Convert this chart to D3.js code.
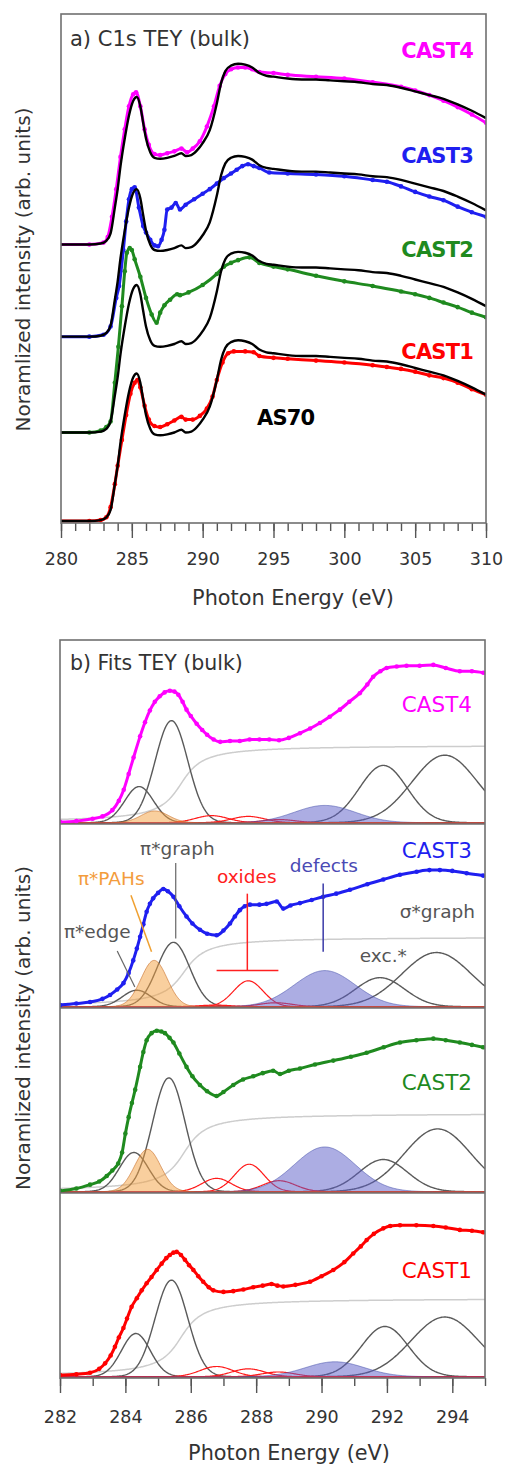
<!DOCTYPE html>
<html><head><meta charset="utf-8">
<script src="https://cdn.jsdelivr.net/npm/d3@7"></script>
<style>body{margin:0;background:#fff} text{font-family:"DejaVu Sans",sans-serif}</style>
</head><body><svg id="c" width="508" height="1468"></svg>
<script>
// ---------------- DATA: panel a) (C1s TEY bulk) ----------------
const topTicks = [280, 285, 290, 295, 300, 305, 310];
const topOffsets = [0, 0.96, 2.0, 3.0]; // CAST1, CAST2, CAST3, CAST4 vertical offsets
const as70Bulk = [[280,0],[281,0],[282,0],[282.8,0.01],[283.2,0.04],[283.5,0.12],[283.8,0.4],[284.0,0.6],[284.2,0.85],[284.5,1.15],[284.8,1.4],[285.1,1.56],[285.35,1.6],[285.6,1.5],[285.8,1.32],[286.0,1.15],[286.3,1.0],[286.6,0.94],[287.0,0.93],[287.5,0.94],[288.0,0.96],[288.5,0.99],[288.8,0.96],[289.2,0.97],[289.6,1.02],[290.0,1.1],[290.5,1.24],[291.0,1.53],[291.3,1.75],[291.6,1.88],[292.0,1.94],[292.5,1.96],[293.0,1.95],[293.5,1.92],[294.0,1.86],[294.5,1.83],[295,1.82],[296,1.8],[297,1.79],[298,1.79],[299,1.78],[300,1.77],[301,1.76],[302,1.74],[303,1.73],[304,1.7],[305,1.66],[306,1.62],[307,1.58],[308,1.52],[309,1.45],[310,1.37]];
const cast1Bulk = [[280,0],[281,0],[282,0],[282.8,0.01],[283.2,0.04],[283.5,0.15],[283.8,0.4],[284.0,0.6],[284.3,0.88],[284.6,1.15],[284.9,1.38],[285.2,1.5],[285.4,1.53],[285.6,1.45],[285.9,1.25],[286.2,1.1],[286.6,1.03],[287.0,1.02],[287.5,1.05],[288.0,1.09],[288.5,1.13],[288.8,1.1],[289.3,1.1],[289.8,1.14],[290.3,1.22],[290.7,1.35],[291.0,1.53],[291.4,1.72],[291.8,1.82],[292.2,1.84],[293.0,1.84],[293.6,1.83],[294.0,1.79],[295,1.77],[296,1.76],[298,1.74],[300,1.72],[302,1.69],[303,1.67],[304,1.65],[305,1.62],[306,1.58],[307,1.55],[308,1.5],[309,1.43],[310,1.37]];
const cast2Bulk = [[280,0],[281,0],[282,0],[282.8,0.02],[283.2,0.06],[283.5,0.12],[283.8,0.54],[284.05,0.93],[284.3,1.37],[284.5,1.75],[284.65,1.95],[284.85,2.0],[285.0,1.98],[285.2,1.88],[285.6,1.69],[286.0,1.46],[286.4,1.28],[286.75,1.19],[287.0,1.3],[287.3,1.38],[287.7,1.44],[288.2,1.5],[288.4,1.49],[289.0,1.52],[290.0,1.6],[291.0,1.72],[291.5,1.8],[292.0,1.84],[292.5,1.87],[293.3,1.9],[294.0,1.84],[295,1.8],[296,1.77],[298,1.7],[300,1.64],[302,1.59],[304,1.53],[305,1.5],[306,1.46],[307,1.41],[308,1.36],[309,1.3],[310,1.25]];
const cast3Bulk = [[280,0],[281,0],[282,0],[283.0,0.02],[283.5,0.11],[283.9,0.42],[284.1,0.55],[284.4,0.94],[284.6,1.25],[284.8,1.49],[285.0,1.6],[285.2,1.62],[285.5,1.4],[285.8,1.2],[286.0,1.13],[286.3,1.05],[286.6,0.99],[286.85,0.98],[287.1,1.05],[287.3,1.16],[287.5,1.38],[287.8,1.4],[288.1,1.45],[288.4,1.38],[288.8,1.43],[289.4,1.49],[290.0,1.55],[290.5,1.6],[291.0,1.66],[291.5,1.72],[292.0,1.77],[292.4,1.81],[292.8,1.85],[293.2,1.87],[293.6,1.85],[294.0,1.83],[294.7,1.78],[296,1.77],[298,1.76],[300,1.74],[302,1.7],[303,1.68],[304,1.63],[305,1.57],[306,1.52],[307,1.48],[308,1.41],[309,1.35],[310,1.3]];
const cast4Bulk = [[280,0],[281,0],[282,0],[283.0,0.02],[283.3,0.08],[283.6,0.3],[283.9,0.6],[284.2,0.95],[284.5,1.25],[284.8,1.5],[285.1,1.63],[285.3,1.65],[285.6,1.5],[285.9,1.25],[286.2,1.08],[286.6,0.98],[287.0,0.97],[287.5,0.99],[288.0,1.01],[288.5,1.04],[288.9,1.0],[289.3,1.04],[289.8,1.12],[290.3,1.28],[290.8,1.5],[291.2,1.72],[291.6,1.85],[292.0,1.9],[292.5,1.92],[293.0,1.92],[293.5,1.9],[294.0,1.87],[295,1.86],[296,1.84],[298,1.82],[300,1.8],[302,1.76],[304,1.71],[305,1.67],[306,1.62],[307,1.56],[308,1.49],[309,1.41],[310,1.32]];

// ---------------- DATA: panel b) (fits) ----------------
const fitNames = ["CAST4", "CAST3", "CAST2", "CAST1"];
const bottomTicks = [282, 284, 286, 288, 290, 292, 294];
const cast4Fit = [[282,0.01],[282.5,0.02],[283.0,0.05],[283.3,0.08],[283.6,0.16],[283.8,0.28],[283.95,0.42],[284.1,0.62],[284.25,0.83],[284.45,1.1],[284.6,1.28],[284.75,1.43],[284.9,1.54],[285.05,1.61],[285.2,1.66],[285.36,1.68],[285.5,1.67],[285.62,1.63],[285.75,1.54],[285.87,1.44],[286.0,1.36],[286.18,1.26],[286.35,1.18],[286.5,1.12],[286.7,1.06],[286.9,1.03],[287.2,1.04],[287.5,1.04],[287.8,1.06],[288.1,1.06],[288.4,1.06],[288.7,1.05],[289.0,1.08],[289.34,1.14],[289.65,1.2],[289.95,1.27],[290.25,1.35],[290.56,1.44],[290.85,1.54],[291.17,1.65],[291.4,1.76],[291.58,1.86],[291.8,1.93],[291.99,1.97],[292.3,1.99],[292.6,2.0],[293.0,2.0],[293.42,2.01],[293.8,1.97],[294.23,1.93],[294.6,1.93],[294.95,1.91]];
const cast3Fit = [[282,0.02],[282.5,0.04],[282.92,0.06],[283.3,0.1],[283.53,0.15],[283.75,0.22],[283.94,0.3],[284.1,0.43],[284.24,0.59],[284.35,0.74],[284.45,0.89],[284.55,1.05],[284.65,1.21],[284.75,1.31],[284.85,1.38],[285.0,1.45],[285.16,1.5],[285.3,1.47],[285.47,1.4],[285.65,1.28],[285.87,1.15],[286.05,1.06],[286.28,0.98],[286.5,0.93],[286.79,0.91],[287.0,0.97],[287.2,1.06],[287.35,1.15],[287.5,1.23],[287.65,1.28],[287.81,1.3],[288.1,1.3],[288.32,1.31],[288.63,1.34],[288.83,1.25],[289.05,1.29],[289.34,1.32],[289.7,1.36],[290.05,1.4],[290.45,1.44],[290.87,1.49],[291.4,1.56],[291.89,1.62],[292.4,1.68],[292.91,1.72],[293.3,1.74],[293.62,1.74],[294.0,1.73],[294.44,1.7],[294.94,1.67]];
const cast2Fit = [[282,0.01],[282.5,0.04],[282.92,0.09],[283.2,0.13],[283.43,0.2],[283.6,0.27],[283.78,0.36],[283.9,0.5],[284.0,0.74],[284.1,0.95],[284.2,1.13],[284.3,1.3],[284.45,1.59],[284.55,1.78],[284.65,1.93],[284.8,2.02],[284.96,2.05],[285.1,2.04],[285.21,2.02],[285.35,1.96],[285.47,1.9],[285.65,1.76],[285.87,1.59],[286.05,1.47],[286.28,1.36],[286.5,1.28],[286.79,1.22],[287.0,1.27],[287.3,1.36],[287.6,1.43],[287.91,1.47],[288.2,1.51],[288.52,1.54],[288.73,1.5],[289.0,1.54],[289.34,1.57],[289.8,1.62],[290.36,1.67],[290.9,1.72],[291.38,1.77],[291.9,1.84],[292.4,1.9],[292.9,1.93],[293.42,1.95],[293.8,1.93],[294.23,1.9],[294.6,1.87],[294.94,1.84]];
const cast1Fit = [[282,0.02],[282.5,0.03],[282.92,0.05],[283.2,0.1],[283.38,0.17],[283.55,0.27],[283.68,0.38],[283.8,0.5],[283.94,0.62],[284.05,0.74],[284.19,0.89],[284.35,1.0],[284.5,1.1],[284.65,1.19],[284.8,1.27],[284.96,1.36],[285.11,1.44],[285.25,1.51],[285.36,1.55],[285.47,1.58],[285.57,1.59],[285.7,1.55],[285.82,1.49],[285.95,1.42],[286.08,1.36],[286.23,1.28],[286.38,1.21],[286.55,1.14],[286.69,1.1],[287.0,1.08],[287.3,1.09],[287.61,1.11],[287.91,1.14],[288.2,1.16],[288.47,1.18],[288.65,1.16],[288.83,1.15],[289.2,1.17],[289.65,1.21],[290.0,1.28],[290.36,1.36],[290.7,1.46],[290.97,1.57],[291.2,1.66],[291.38,1.74],[291.6,1.82],[291.89,1.89],[292.1,1.92],[292.4,1.93],[292.9,1.93],[293.42,1.92],[293.8,1.9],[294.23,1.87],[294.6,1.86],[294.94,1.84]];
// fitted components per panel [CAST4, CAST3, CAST2, CAST1]: [centre eV, height, sigma eV]
const piEdge     = [[284.42,0.46,0.44],[284.35,0.21,0.44],[284.26,0.5,0.44],[284.32,0.55,0.44]];
const piGraph    = [[285.41,1.3,0.5],[285.47,0.82,0.5],[285.33,1.45,0.5],[285.41,1.23,0.5]];
const piPAH      = [[284.9,0.15,0.42],[284.88,0.59,0.4],[284.68,0.54,0.4],null];
const oxide1     = [[286.64,0.09,0.5],[286.75,0.02,0.5],[286.79,0.17,0.45],[286.79,0.13,0.5]];
const oxide2     = [[287.76,0.08,0.5],[287.76,0.33,0.45],[287.79,0.35,0.45],[287.76,0.1,0.5]];
const oxide3     = [[288.7,0.04,0.5],[288.6,0.05,0.5],[288.7,0.14,0.5],[288.68,0.06,0.5]];
const defects    = [[290.1,0.22,0.93],[290.1,0.46,0.93],[290.1,0.57,0.93],[290.41,0.19,0.9]];
const excStar    = [[291.89,0.73,0.73],[291.79,0.37,0.75],[291.89,0.41,0.74],[291.94,0.64,0.72]];
const sigmaGraph = [[293.77,0.86,1.0],[293.52,0.69,1.06],[293.55,0.8,1.02],[293.77,0.76,1.03]];
const stepEdge   = [[285.7,0.99,0.5],[285.8,0.89,0.5],[285.8,1.0,0.5],[285.7,1.0,0.5]];

// ---------------- DRAWING ----------------
const svg = d3.select("#c");
const FONT = "DejaVu Sans";
const frameColor = "#707070";
const colors = {CAST1:"#ff0000", CAST2:"#1f8a1f", CAST3:"#1f1ff0", CAST4:"#ff00ff"};

// ===== Panel a =====
const xTop = d3.scaleLinear().domain([280,310]).range([61,486]);
const yTop = d3.scaleLinear().domain([0,5.5]).range([521,14]);
const defs = svg.append("defs");
defs.append("clipPath").attr("id","clipTop").append("rect").attr("x",61).attr("y",14).attr("width",425).attr("height",509);

const gTop = svg.append("g").attr("clip-path","url(#clipTop)");
const topSets = [
  {name:"CAST1", data:cast1Bulk, off:topOffsets[0]},
  {name:"CAST2", data:cast2Bulk, off:topOffsets[1]},
  {name:"CAST3", data:cast3Bulk, off:topOffsets[2]},
  {name:"CAST4", data:cast4Bulk, off:topOffsets[3]}
];
topSets.forEach(s => {
  const line = d3.line().x(d=>xTop(d[0])).y(d=>yTop(d[1]+s.off)).curve(d3.curveMonotoneX);
  gTop.append("path").attr("d", line(s.data)).attr("fill","none")
    .attr("stroke", colors[s.name]).attr("stroke-width",3);
  gTop.selectAll(null).data(s.data.filter(d=>d[0]>=282)).enter().append("circle")
    .attr("cx",d=>xTop(d[0])).attr("cy",d=>yTop(d[1]+s.off)).attr("r",2.3)
    .attr("fill", colors[s.name]);
});
topSets.forEach(s => {
  const line = d3.line().x(d=>xTop(d[0])).y(d=>yTop(d[1]+s.off)).curve(d3.curveMonotoneX);
  gTop.append("path").attr("d", line(as70Bulk)).attr("fill","none")
    .attr("stroke","#000").attr("stroke-width",2.4);
});

// axis top
const axTopMinor = d3.axisBottom(xTop).tickValues(d3.range(280,311,1)).tickSize(8).tickFormat("");
const axTopMajor = d3.axisBottom(xTop).tickValues(topTicks).tickSize(15).tickPadding(15).tickFormat(d3.format("d"));
[axTopMinor, axTopMajor].forEach(ax => {
  const g = svg.append("g").attr("transform","translate(0,523)").call(ax);
  g.select(".domain").remove();
  g.selectAll(".tick line").attr("stroke","#555").attr("stroke-width",1.4);
  g.selectAll(".tick text").attr("font-family",FONT).attr("font-size",17.5).attr("fill","#333");
});
svg.append("rect").attr("x",61).attr("y",14).attr("width",425).attr("height",509)
  .attr("fill","none").attr("stroke",frameColor).attr("stroke-width",1.6);

svg.append("text").attr("x",70).attr("y",46).attr("font-size",21).attr("fill","#333").text("a) C1s TEY (bulk)");
const topLabelY = {CAST4:58, CAST3:163, CAST2:257, CAST1:359};
Object.keys(topLabelY).forEach(k => {
  svg.append("text").attr("x",473).attr("y",topLabelY[k]).attr("text-anchor","end")
    .attr("font-size",21).attr("letter-spacing",-0.8).attr("font-weight","bold").attr("fill",colors[k]).text(k);
});
svg.append("text").attr("x",257).attr("y",425).attr("font-size",21).attr("letter-spacing",-0.8).attr("font-weight","bold").attr("fill","#000").text("AS70");
svg.append("text").attr("x",293).attr("y",605).attr("text-anchor","middle").attr("font-size",20.8).attr("fill","#333").text("Photon Energy (eV)");
svg.append("text").attr("transform","translate(23,269.5) rotate(-90)").attr("text-anchor","middle")
  .attr("dominant-baseline","central").attr("font-size",20).attr("fill","#333").text("Noramlized intensity (arb. units)");

// ===== Panel b =====
const xB = d3.scaleLinear().domain([282,295]).range([60,485]);
const subTop = [640,824,1008,1193], subBot = [824,1008,1193,1378];
const fitData = {CAST4:cast4Fit, CAST3:cast3Fit, CAST2:cast2Fit, CAST1:cast1Fit};
const grid = d3.range(282, 295.0001, 0.025);
const gauss = (p) => grid.map(E => [E, p[1]*Math.exp(-((E-p[0])**2)/(2*p[2]*p[2]))]);
const step = (p) => grid.map(E => [E, p[1]*(0.5 + Math.atan((E-p[0])/p[2])/Math.PI)]);

const yScales = [];
fitNames.forEach((name, i) => {
  const base = subBot[i]-1.3;
  const y = d3.scaleLinear().domain([0,1]).range([base, base-78.5]);
  yScales.push(y);
  defs.append("clipPath").attr("id","clipB"+i).append("rect")
    .attr("x",60).attr("y",subTop[i]).attr("width",425).attr("height",subBot[i]-subTop[i]);
  const g = svg.append("g").attr("clip-path","url(#clipB"+i+")");
  const line = d3.line().x(d=>xB(d[0])).y(d=>y(d[1]));
  const area = d3.area().x(d=>xB(d[0])).y0(y(0)).y1(d=>y(d[1]));
  // step
  g.append("path").attr("d",line(step(stepEdge[i]))).attr("fill","none").attr("stroke","#cdcdcd").attr("stroke-width",1.5);
  // gray peaks
  [piEdge[i], piGraph[i], excStar[i], sigmaGraph[i]].forEach(p => {
    g.append("path").attr("d",line(gauss(p))).attr("fill","none").attr("stroke","#5a5a5a").attr("stroke-width",1.4);
  });
  // oxides
  [oxide1[i], oxide2[i], oxide3[i]].forEach(p => {
    g.append("path").attr("d",line(gauss(p))).attr("fill","none").attr("stroke","#ff1a1a").attr("stroke-width",1.2);
  });
  // defects fill
  g.append("path").attr("d",area(gauss(defects[i]))).attr("fill","rgba(90,92,200,0.5)");
  g.append("path").attr("d",line(gauss(defects[i]))).attr("fill","none").attr("stroke","rgba(70,80,170,0.55)").attr("stroke-width",1);
  // PAH fill
  if (piPAH[i]) {
    g.append("path").attr("d",area(gauss(piPAH[i]))).attr("fill","rgba(243,159,61,0.5)");
    g.append("path").attr("d",line(gauss(piPAH[i]))).attr("fill","none").attr("stroke","rgba(200,110,40,0.6)").attr("stroke-width",1);
  }
  // data
  const dl = d3.line().x(d=>xB(d[0])).y(d=>y(d[1])).curve(d3.curveMonotoneX);
  g.append("path").attr("d",dl(fitData[name])).attr("fill","none").attr("stroke",colors[name]).attr("stroke-width",3);
  g.selectAll(null).data(fitData[name]).enter().append("circle")
    .attr("cx",d=>xB(d[0])).attr("cy",d=>y(d[1])).attr("r",2.3).attr("fill",colors[name]);
});

// separators + frame
[824,1008,1193].forEach(v => svg.append("line").attr("x1",60).attr("x2",485).attr("y1",v).attr("y2",v)
  .attr("stroke",frameColor).attr("stroke-width",1.5));
const axBMinor = d3.axisBottom(xB).tickValues(d3.range(282,296,1)).tickSize(8).tickFormat("");
const axBMajor = d3.axisBottom(xB).tickValues(bottomTicks).tickSize(15).tickPadding(18).tickFormat(d3.format("d"));
[axBMinor, axBMajor].forEach(ax => {
  const g = svg.append("g").attr("transform","translate(0,1378)").call(ax);
  g.select(".domain").remove();
  g.selectAll(".tick line").attr("stroke","#555").attr("stroke-width",1.4);
  g.selectAll(".tick text").attr("font-family",FONT).attr("font-size",17.5).attr("fill","#333");
});
svg.append("rect").attr("x",60).attr("y",640).attr("width",425).attr("height",738)
  .attr("fill","none").attr("stroke",frameColor).attr("stroke-width",1.6);

svg.append("text").attr("x",70).attr("y",670).attr("font-size",20.5).attr("fill","#333").text("b) Fits TEY (bulk)");
const botLabelY = {CAST4:711.7, CAST3:858, CAST2:1090, CAST1:1278};
Object.keys(botLabelY).forEach(k => {
  svg.append("text").attr("x",472).attr("y",botLabelY[k]).attr("text-anchor","end")
    .attr("font-size",21.5).attr("fill",colors[k]).text(k);
});

// annotations in CAST3 panel
const y3 = yScales[1];
const ann = svg.append("g").attr("font-size",18.5);
ann.append("text").attr("x",xB(284.45)).attr("y",y3(1.93)).attr("fill","#555").text("π*graph");
ann.append("line").attr("x1",xB(285.54)).attr("x2",xB(285.54)).attr("y1",y3(1.83)).attr("y2",y3(0.87)).attr("stroke","#666").attr("stroke-width",1.2);
ann.append("text").attr("x",xB(282.55)).attr("y",y3(1.55)).attr("fill","#f39c3c").text("π*PAHs");
ann.append("line").attr("x1",xB(284.17)).attr("x2",xB(284.8)).attr("y1",y3(1.42)).attr("y2",y3(0.7)).attr("stroke","#f0a030").attr("stroke-width",1.5);
ann.append("text").attr("x",xB(282.12)).attr("y",y3(0.88)).attr("fill","#555").text("π*edge");
ann.append("line").attr("x1",xB(283.75)).attr("x2",xB(284.29)).attr("y1",y3(0.71)).attr("y2",y3(0.25)).attr("stroke","#666").attr("stroke-width",1.2);
ann.append("text").attr("x",xB(286.8)).attr("y",y3(1.58)).attr("fill","#ff2020").text("oxides");
ann.append("line").attr("x1",xB(287.73)).attr("x2",xB(287.73)).attr("y1",y3(1.44)).attr("y2",y3(0.46)).attr("stroke","#ff2020").attr("stroke-width",1.5);
ann.append("line").attr("x1",xB(286.79)).attr("x2",xB(288.68)).attr("y1",y3(0.46)).attr("y2",y3(0.46)).attr("stroke","#ff2020").attr("stroke-width",1.5);
ann.append("text").attr("x",xB(289.03)).attr("y",y3(1.72)).attr("fill","#4a4ab4").text("defects");
ann.append("line").attr("x1",xB(290.05)).attr("x2",xB(290.05)).attr("y1",y3(1.57)).attr("y2",y3(0.7)).attr("stroke","#3a3aa8").attr("stroke-width",1.5);
ann.append("text").attr("x",475).attr("y",y3(1.13)).attr("text-anchor","end").attr("fill","#555").text("σ*graph");
ann.append("text").attr("x",xB(291.17)).attr("y",y3(0.57)).attr("fill","#555").text("exc.*");

svg.append("text").attr("x",289).attr("y",1460).attr("text-anchor","middle").attr("font-size",20.8).attr("fill","#333").text("Photon Energy (eV)");
svg.append("text").attr("transform","translate(23,1028) rotate(-90)").attr("text-anchor","middle")
  .attr("dominant-baseline","central").attr("font-size",20).attr("fill","#333").text("Noramlized intensity (arb. units)");
</script></body></html>
